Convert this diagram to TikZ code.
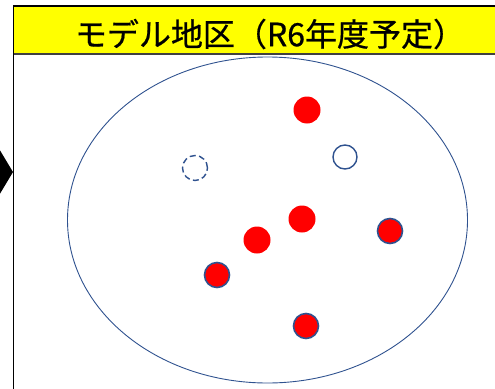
\documentclass[tikz,border=0pt]{standalone}
\usepackage{fontspec}
\usetikzlibrary{shapes.geometric}
\newfontfamily\jpfont[FakeBold=0.6]{Noto Sans CJK JP}
\definecolor{edgeblue}{HTML}{2F528F}
\definecolor{titleyellow}{HTML}{FFFF00}
\tikzset{
  dot/.style={circle,fill=red,minimum size=27pt,inner sep=0pt},
  bdot/.style={dot,draw=edgeblue,line width=1.6pt,minimum size=25pt},
  odot/.style={circle,draw=edgeblue,line width=1.4pt,minimum size=24pt,inner sep=0pt},
  ddot/.style={odot,dashed,dash pattern=on 6pt off 3.4pt,minimum size=25pt}
}
\begin{document}
\begin{tikzpicture}[x=1pt,y=-1pt]
\useasboundingbox (0,0) rectangle (495,388);
\begin{scope}
\clip (0,0) rectangle (495,388);
\fill[titleyellow] (13.5,6) rectangle (500,54);
\draw[line width=1.5pt] (500,6) -- (13.5,6) -- (13.5,400);
\draw[line width=1.2pt,black!75] (13.5,54) -- (500,54);
\fill[black] (-2,147) -- (13,172) -- (-2,197) -- cycle;
\node[font=\jpfont\fontsize{32}{34}\selectfont] (title) at (270,34) {モデル地区（R6年度予定）};
\node[ellipse,draw=edgeblue,line width=0.9pt,minimum width=400pt,minimum height=326pt,inner sep=0pt] (area) at (267.5,220) {};
\end{scope}
\node[dot] (p1) at (307,110) {};
\node[odot] (p2) at (345,157) {};
\node[ddot] (p3) at (195,168) {};
\node[dot] (p4) at (302,219) {};
\node[dot] (p5) at (257,240) {};
\node[bdot] (p6) at (217,275) {};
\node[bdot] (p7) at (390,231) {};
\node[bdot] (p8) at (306,326) {};
\end{tikzpicture}
\end{document}
